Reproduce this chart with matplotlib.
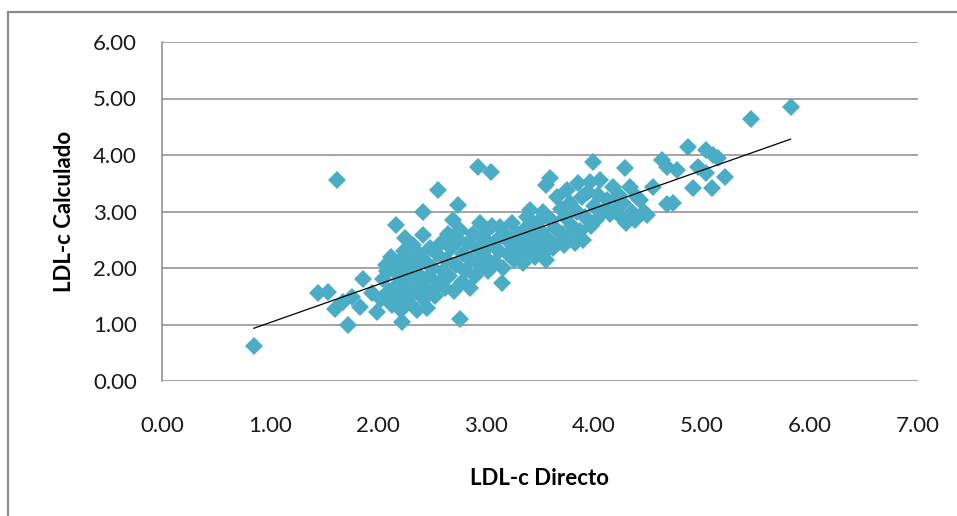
import numpy as np
import matplotlib
matplotlib.use("Agg")
import matplotlib.pyplot as plt
from matplotlib.patches import Rectangle

# LDL-c Directo (x) vs LDL-c Calculado (y)
ldl_directo = [
    0.85, 1.62, 1.44, 1.54, 1.60, 1.72, 1.76, 1.83, 1.86, 1.94, 1.99, 1.68,
    2.03, 2.05, 2.07, 2.10, 2.12, 2.13, 2.15, 2.17, 2.18, 2.19, 2.20, 2.21,
    2.22, 2.22, 2.24, 2.25, 2.26, 2.27, 2.28, 2.29, 2.30, 2.08,
    2.32, 2.33, 2.35, 2.36, 2.37, 2.38, 2.40, 2.42, 2.42, 2.43, 2.44, 2.45,
    2.47, 2.48, 2.50, 2.51, 2.53, 2.55, 2.56, 2.57, 2.58, 2.60, 2.62, 2.63,
    2.65, 2.66, 2.68, 2.69, 2.70, 2.72, 2.74, 2.75, 2.76, 2.76, 2.78, 2.79,
    2.81, 2.83, 2.85, 2.86, 2.88, 2.90, 2.92, 2.93, 2.94, 2.95, 2.97, 2.99,
    3.01, 3.02, 3.04, 3.05, 3.06, 3.08, 3.10, 3.12, 3.13, 3.15, 3.16, 3.18,
    3.20, 3.22, 3.24, 3.26, 3.28, 3.29,
    3.31, 3.34, 3.35, 3.37, 3.38, 3.40, 3.41, 3.43, 3.45, 3.47, 3.49, 3.51,
    3.53, 3.55, 3.56, 3.56, 3.58, 3.59, 3.60, 3.62, 3.64, 3.66, 3.67, 3.69, 3.70,
    3.72, 3.73, 3.75, 3.76, 3.78, 3.80, 3.82, 3.84, 3.85, 3.87, 3.89, 3.90,
    3.92, 3.94, 3.96, 3.97, 3.99, 4.00, 4.02, 4.04, 4.06, 4.08,
    4.12, 4.15, 4.18, 4.20, 4.23, 4.25, 4.27, 4.29, 4.30, 4.33, 4.35, 4.38,
    4.40, 4.43, 4.46, 4.49,
    4.55, 4.63, 4.68, 4.68, 4.73, 4.77, 4.87, 4.92, 4.96, 5.04, 5.04, 5.09,
    5.10, 5.15, 5.21, 5.45, 5.82,
]
ldl_calculado = [
    0.62, 3.55, 1.56, 1.58, 1.27, 1.00, 1.49, 1.31, 1.80, 1.56, 1.22, 1.40,
    1.45, 1.80, 2.05, 1.60, 2.20, 1.35, 1.95, 2.76, 1.70, 2.10, 1.50, 1.25,
    1.05, 1.85, 2.30, 2.53, 1.62, 2.00, 1.40, 2.15, 1.80, 1.95,
    2.40, 1.55, 2.05, 1.25, 1.90, 2.25, 1.70, 2.99, 2.58, 1.45, 2.10, 1.30,
    1.85, 2.35, 1.60, 2.00, 1.50, 2.25, 3.38, 1.75, 2.45, 1.95, 1.65, 2.15,
    2.60, 1.85, 2.35, 2.85, 1.60, 2.05, 3.11, 2.50, 1.10, 2.67, 1.75, 2.25,
    1.95, 2.45, 1.65, 2.15, 2.60, 1.85, 2.35, 3.79, 2.80, 2.05, 2.55, 2.20,
    2.67, 1.95, 2.40, 3.70, 2.75, 2.10, 2.50, 2.30, 2.73, 1.73, 2.00, 2.60,
    2.25, 2.45, 2.80, 2.15, 2.35, 2.60,
    2.20, 2.09, 2.45, 2.70, 2.91, 2.30, 3.03, 2.55, 2.20, 2.80, 2.40, 2.65,
    3.00, 2.28, 2.14, 3.47, 2.50, 3.59, 2.85, 2.35, 2.70, 3.26, 2.45, 3.05, 2.60,
    2.40, 2.90, 3.38, 2.55, 3.15, 2.75, 2.45, 3.00, 3.50, 2.65, 3.25, 2.50,
    2.90, 3.35, 3.52, 2.75, 3.88, 3.10, 2.85, 3.30, 3.56, 3.00,
    3.20, 2.95, 3.43, 3.05, 3.30, 2.90, 3.15, 3.77, 2.80, 3.43, 3.00, 2.85,
    3.25, 3.20, 3.00, 2.94,
    3.43, 3.91, 3.79, 3.14, 3.15, 3.73, 4.14, 3.42, 3.79, 4.09, 3.68, 3.41,
    4.00, 3.95, 3.61, 4.63, 4.85,
]
x_ticks = [0, 1, 2, 3, 4, 5, 6, 7]
y_ticks = [0, 1, 2, 3, 4, 5, 6]

x = np.array(ldl_directo)
y = np.array(ldl_calculado)

plt.rcParams['font.family'] = ['Lato', 'DejaVu Sans']

fig = plt.figure(figsize=(9.57, 5.16), dpi=100)
fig.patch.set_facecolor('white')
ax = fig.add_axes([162 / 957, 1 - 381 / 516, (918 - 162) / 957, (381 - 42) / 516])

# grey frame of the chart area (only top and left show in the crop)
fig.patches.append(Rectangle((8 / 957, -0.2), 1.2, 1.2 - 12 / 516,
                             transform=fig.transFigure, fill=False,
                             edgecolor='#8a8a8a', linewidth=1.6, clip_on=False))

ax.plot(x, y, linestyle='none', marker='D', markersize=8.7,
        color='#4BACC6', markeredgewidth=0, zorder=3)

# linear trendline
slope, intercept = np.polyfit(x, y, 1)
xl = np.array([x.min(), x.max()])
ax.plot(xl, slope * xl + intercept, color='black', linewidth=0.9, zorder=4)

ax.set_xlim(0, 7)
ax.set_ylim(0, 6)
ax.set_xticks(x_ticks)
ax.set_yticks(y_ticks)
ax.set_xticklabels([f'{v:.2f}' for v in x_ticks])
ax.set_yticklabels([f'{v:.2f}' for v in y_ticks])
ax.tick_params(length=0, labelsize=16, colors='#1a1a1a')
ax.tick_params(axis='y', pad=18)
ax.tick_params(axis='x', pad=25)

ax.grid(axis='y', color='#8c8c8c', linewidth=1.1)
ax.set_axisbelow(True)
for side in ['top', 'right', 'bottom']:
    ax.spines[side].set_visible(False)
ax.spines['left'].set_color('#8c8c8c')
ax.spines['left'].set_linewidth(1.1)

ax.set_xlabel('LDL-c Directo', fontsize=16, fontweight='bold', labelpad=23)
ax.set_ylabel('LDL-c Calculado', fontsize=16, fontweight='bold', labelpad=13)

fig.savefig('out.png', dpi=100)
